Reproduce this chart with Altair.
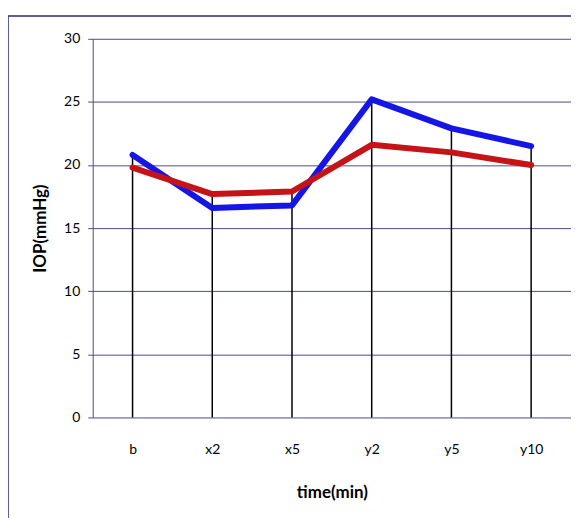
import altair as alt
import pandas as pd

categories = ["b", "x2", "x5", "y2", "y5", "y10"]
blue_vals = [20.8, 16.6, 16.8, 25.2, 22.9, 21.5]
red_vals = [19.8, 17.7, 17.9, 21.6, 21.0, 20.0]

rows = []
for c, b, r in zip(categories, blue_vals, red_vals):
    rows.append({"time": c, "series": "A", "iop": b})
    rows.append({"time": c, "series": "B", "iop": r})
df = pd.DataFrame(rows)
drop = pd.DataFrame({"time": categories,
                     "top": [max(b, r) for b, r in zip(blue_vals, red_vals)],
                     "zero": [0] * len(categories)})

FONT = "Lato"
NAVY = "#4b4b8c"

x_enc = alt.X("time:N", sort=categories, scale=alt.Scale(type="point", padding=0.5),
              axis=alt.Axis(title="time(min)", labelAngle=0, ticks=False, domain=False,
                            labelPadding=25, titlePadding=28, labelFontSize=14,
                            titleFontSize=17, titleFontWeight="bold",
                            labelFont=FONT, titleFont=FONT, labelColor="black",
                            titleColor="black", grid=False))
y_scale = alt.Scale(domain=[0, 30])

base_axis = alt.Axis(title="IOP(mmHg)", values=[0, 5, 10, 15, 20, 25, 30],
                     tickSize=5, tickColor=NAVY, domainColor=NAVY, gridColor=NAVY,
                     gridWidth=1, gridOpacity=1, labelFontSize=14, titleFontSize=17,
                     titleFontWeight="bold", labelFont=FONT, titleFont=FONT,
                     labelColor="black", titleColor="black", labelPadding=8,
                     titlePadding=14)

frame = alt.Chart(pd.DataFrame({"k": [0]})).mark_rect(
    fill=None, stroke="#2a2a7a", strokeWidth=1.5
).encode(x=alt.value(-85), x2=alt.value(495), y=alt.value(-23), y2=alt.value(500))

rules = alt.Chart(drop).mark_rule(color="black", strokeWidth=1.5).encode(
    x=x_enc,
    y=alt.Y("zero:Q", scale=y_scale, axis=base_axis),
    y2="top:Q",
)

lines = alt.Chart(df).mark_line(strokeWidth=6, strokeCap="round", strokeJoin="round").encode(
    x=x_enc,
    y=alt.Y("iop:Q", scale=y_scale, axis=base_axis),
    color=alt.Color("series:N", scale=alt.Scale(domain=["A", "B"], range=["#1515e6", "#c41418"]),
                    legend=None),
)

chart = alt.layer(frame, rules, lines).properties(
    width=480, height=380,
    padding={"left": 85, "top": 30, "right": 0, "bottom": 100},
    autosize=alt.AutoSizeParams(type="none"),
).configure_view(stroke=None)

chart.save("out.html", embed_options={"renderer": "svg", "actions": False})
